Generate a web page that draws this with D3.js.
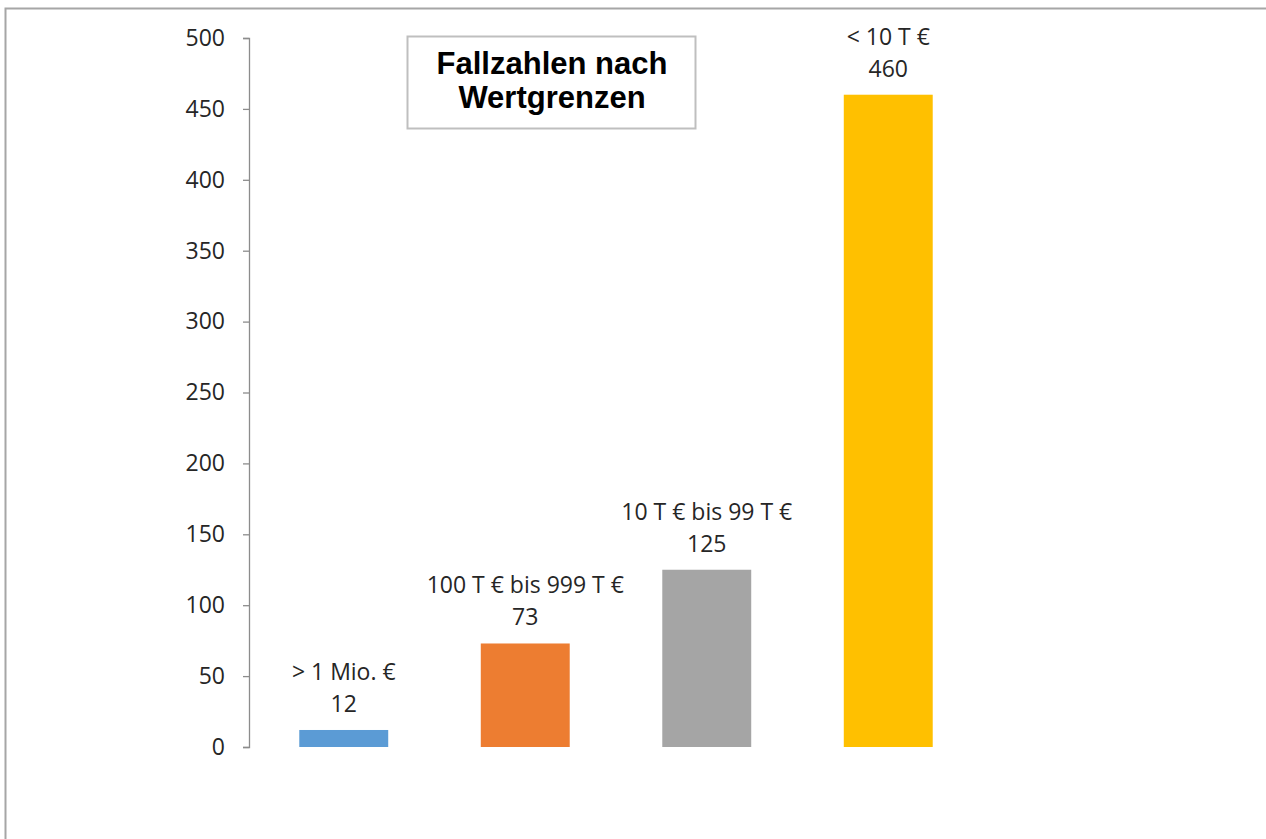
<!DOCTYPE html>
<html lang="de">
<head>
    <meta charset="UTF-8">
    <script src="https://d3js.org/d3.v7.min.js"></script>
    <style>
        body { margin: 0; background: white; }
        svg { display: block; }
    </style>
    <title>Fallzahlen nach Wertgrenzen</title>
</head>
<body>
<div id="chart"></div>
<script>
    // data
    var categories = ["> 1 Mio. €", "100 T € bis 999 T €", "10 T € bis 99 T €", "< 10 T €"];
    var values = [12, 73, 125, 460];
    var colors = ["#5b9bd5", "#ed7d31", "#a5a5a5", "#ffc000"];
    var yTicks = [0, 50, 100, 150, 200, 250, 300, 350, 400, 450, 500];
    var titleLines = ["Fallzahlen nach", "Wertgrenzen"];

    var canvasWidth = 1266;
    var canvasHeight = 839;
    var labelFont = "'Open Sans', sans-serif";

    var svg = d3.select("#chart").append("svg")
        .attr("width", canvasWidth)
        .attr("height", canvasHeight);

    // outer frame (top and left edge visible)
    svg.append("path")
        .attr("d", "M5.5,839 V8.5 H1266")
        .attr("fill", "none")
        .attr("stroke", "#a6a6a6")
        .attr("stroke-width", 2);

    var xScale = d3.scaleBand().domain(categories).range([253, 979]).paddingInner(0.51).paddingOuter(0.255);
    var yScale = d3.scaleLinear().domain([0, 500]).range([747, 38]);

    // y axis
    var yAxis = svg.append("g")
        .attr("transform", "translate(249, 0)")
        .call(d3.axisLeft(yScale).tickValues(yTicks).tickSizeOuter(0).tickSize(6).tickPadding(18));
    yAxis.select(".domain").attr("stroke", "#8c8c8c").attr("stroke-width", 1.3);
    yAxis.selectAll(".tick line").attr("stroke", "#8c8c8c").attr("stroke-width", 1.3);
    yAxis.selectAll(".tick text")
        .attr("font-family", labelFont)
        .attr("font-size", "23px")
        .attr("fill", "#262626");

    // bars
    svg.selectAll(".bar").data(values).enter().append("rect")
        .attr("class", "bar")
        .attr("x", function (d, i) { return xScale(categories[i]); })
        .attr("y", function (d) { return yScale(d); })
        .attr("width", xScale.bandwidth())
        .attr("height", function (d) { return yScale(0) - yScale(d); })
        .attr("fill", function (d, i) { return colors[i]; });

    // two-line labels above bars
    var labels = svg.selectAll(".lbl").data(values).enter().append("text")
        .attr("class", "lbl")
        .attr("text-anchor", "middle")
        .attr("font-family", labelFont)
        .attr("font-size", "23px")
        .attr("fill", "#262626");
    labels.append("tspan")
        .attr("x", function (d, i) { return xScale(categories[i]) + xScale.bandwidth() / 2; })
        .attr("y", function (d) { return yScale(d) - 50; })
        .text(function (d, i) { return categories[i]; });
    labels.append("tspan")
        .attr("x", function (d, i) { return xScale(categories[i]) + xScale.bandwidth() / 2; })
        .attr("y", function (d) { return yScale(d) - 18; })
        .text(function (d) { return d; });

    // title box
    svg.append("rect")
        .attr("x", 407.5).attr("y", 36.5)
        .attr("width", 288).attr("height", 92)
        .attr("fill", "white")
        .attr("stroke", "#bfbfbf")
        .attr("stroke-width", 2);
    svg.append("text")
        .attr("text-anchor", "middle")
        .attr("font-family", "'Liberation Sans', Arial, sans-serif")
        .attr("font-weight", "bold")
        .attr("font-size", "31px")
        .attr("fill", "#000")
        .selectAll("tspan").data(titleLines).enter().append("tspan")
        .attr("x", 552)
        .attr("y", function (d, i) { return 74 + i * 34; })
        .text(function (d) { return d; });
</script>
</body>
</html>
